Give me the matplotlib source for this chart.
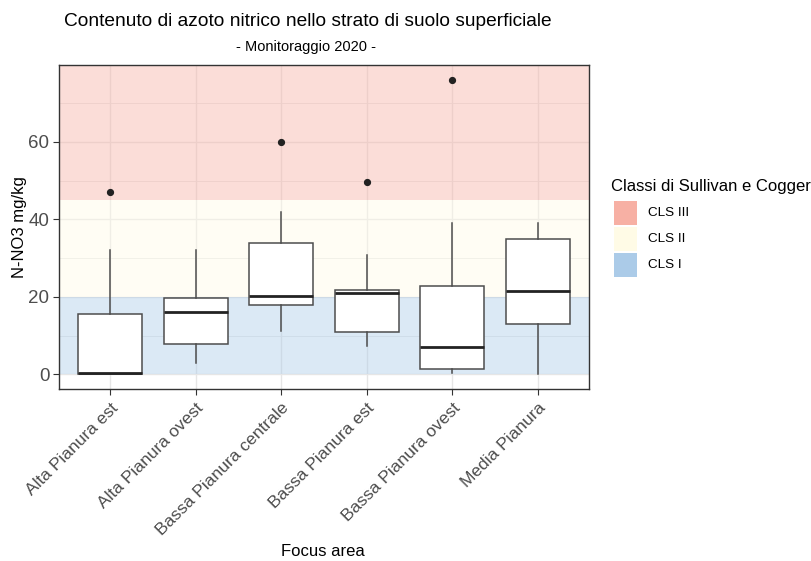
import matplotlib.pyplot as plt
from matplotlib.patches import Rectangle

plt.rcParams["font.family"] = ["Liberation Sans", "DejaVu Sans"]

# focus areas and box statistics (mg/kg)
areas = [
    "Alta Pianura est",
    "Alta Pianura ovest",
    "Bassa Pianura centrale",
    "Bassa Pianura est",
    "Bassa Pianura ovest",
    "Media Pianura",
]
whisker_low = [0.0, 3.0, 11.1, 7.2, 0.2, 0.0]
q1 = [0.0, 7.7, 18.0, 10.9, 1.3, 13.0]
median = [0.2, 16.0, 20.1, 21.1, 7.0, 21.6]
q3 = [15.5, 19.7, 34.0, 21.7, 22.9, 34.9]
whisker_high = [32.0, 32.0, 41.9, 30.9, 39.0, 39.0]
outliers = [[47.0], [], [60.0], [49.7], [75.9], []]

# Sullivan & Cogger classes
class_names = ["CLS III", "CLS II", "CLS I"]
class_low = [45, 20, 0]
class_high = [80, 45, 20]
class_colors = ["#F7B0A4", "#FFFBE6", "#ABCBE8"]

W, H = 812, 561
fig = plt.figure(figsize=(W / 100, H / 100), dpi=100)
ax = fig.add_axes([0.0727, 0.3066, 0.6527, 0.5775])

ymin, ymax = -3.8, 79.8
ax.set_ylim(ymin, ymax)
ax.set_xlim(0.4, 6.6)

# grid
ax.set_yticks([0, 20, 40, 60])
ax.set_yticks([10, 30, 50, 70], minor=True)
ax.grid(True, which="major", color="#E6E6E6", linewidth=1.0, zorder=0)
ax.grid(True, which="minor", axis="y", color="#E6E6E6", linewidth=0.6, zorder=0)
ax.set_axisbelow(True)

# class bands
for lo, hi, col in zip(class_low, class_high, class_colors):
    top = ymax if hi >= 80 else hi
    ax.axhspan(lo, top, color=col, alpha=0.42, linewidth=0, zorder=1)

stats = []
for i, name in enumerate(areas):
    stats.append({
        "label": name,
        "whislo": whisker_low[i],
        "q1": q1[i],
        "med": median[i],
        "q3": q3[i],
        "whishi": whisker_high[i],
        "fliers": outliers[i],
    })

edge = "#4D4D4D"
ax.bxp(
    stats,
    positions=range(1, len(areas) + 1),
    widths=0.75,
    patch_artist=True,
    showcaps=False,
    boxprops=dict(facecolor="white", edgecolor=edge, linewidth=1.1),
    whiskerprops=dict(color=edge, linewidth=1.1),
    medianprops=dict(color="#222222", linewidth=2.0),
    flierprops=dict(marker="o", markerfacecolor="#222222", markeredgecolor="#222222",
                    markersize=4.2),
    zorder=3,
)

ax.set_xticks(range(1, len(areas) + 1))
ax.set_xticklabels(areas, rotation=45, ha="right", rotation_mode="anchor",
                   fontsize=12.5, color="#4D4D4D")
ax.tick_params(axis="y", labelsize=13.5, labelcolor="#4D4D4D", color="#333333",
               length=4, width=0.8, pad=3)
ax.tick_params(axis="x", color="#333333", length=4, width=0.8, pad=4)
ax.tick_params(axis="y", which="minor", length=0)

for sp in ax.spines.values():
    sp.set_color("#333333")
    sp.set_linewidth(1.0)

ax.set_ylabel("N-NO3 mg/kg", fontsize=12, labelpad=1)
fig.text(323 / W, 1 - 551 / H, "Focus area", ha="center", va="center", fontsize=12)

fig.text(308 / W, 1 - 21 / H, "Contenuto di azoto nitrico nello strato di suolo superficiale",
         ha="center", va="center", fontsize=13.8)
fig.text(306 / W, 1 - 47 / H, "- Monitoraggio 2020 -",
         ha="center", va="center", fontsize=10.5)

# legend, laid out by hand in figure pixels
fig.text(611 / W, 1 - 186 / H, "Classi di Sullivan e Cogger",
         ha="left", va="center", fontsize=12)
key_top = 201
for name, col in zip(class_names, class_colors):
    fig.add_artist(Rectangle((614 / W, 1 - (key_top + 24) / H), 23 / W, 24 / H,
                             transform=fig.transFigure, facecolor=col,
                             edgecolor="none"))
    fig.text(648 / W, 1 - (key_top + 12) / H, name, ha="left", va="center",
             fontsize=9.7)
    key_top += 26

fig.savefig("out.png", dpi=100)
